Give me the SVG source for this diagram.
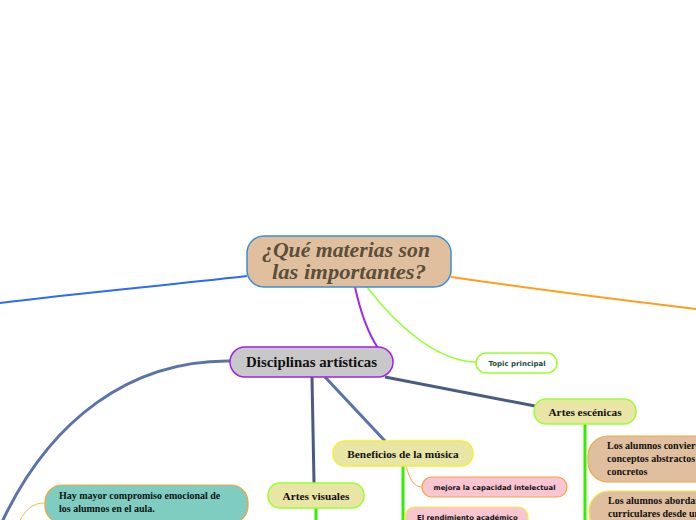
<svg xmlns="http://www.w3.org/2000/svg" width="696" height="520" viewBox="0 0 696 520">
<style>
.serif{font-family:"Liberation Serif","Times New Roman",serif;font-weight:bold;fill:#111}
.sans{font-family:"DejaVu Sans","Verdana",sans-serif;font-weight:bold}
.kh{fill:#e8e5a5}
.c{fill:none}
</style>
<rect width="696" height="520" fill="#fff"/>
<g id="connectors" class="c">
<path d="M247,276 C160,286 80,293 0,303" stroke="#2d6af5" stroke-width="2"/>
<path d="M451,277 C540,290 620,300 696,309" stroke="#ff9e1a" stroke-width="2"/>
<path d="M355,287 C360,310 366,330 378,348" stroke="#9a2cf0" stroke-width="2"/>
<path d="M367,287 C400,330 440,362 477,362" stroke="#99ff33" stroke-width="1.5"/>
<path d="M230,361 C130,360 50,420 2,522" stroke="#5a74aa" stroke-width="3"/>
<path d="M312,377 L314,483" stroke="#4a5a80" stroke-width="3"/>
<path d="M325,377 L385,441" stroke="#5a74aa" stroke-width="3"/>
<path d="M385,377 L535,406" stroke="#4a5a80" stroke-width="3"/>
<path d="M403,466 L403,520" stroke="#33ee00" stroke-width="3"/>
<path d="M406,466 C410,480 414,487 422,487" stroke="#f5a442" stroke-width="1"/>
<path d="M585,424 L585,520" stroke="#33ee00" stroke-width="3"/>
<path d="M316,508 L316,520" stroke="#33ee00" stroke-width="3"/>
<path d="M45,503 C32,503 26,510 20,520" stroke="#ffb547" stroke-width="1"/>
</g>
<g id="central">
<rect x="247" y="236" width="204" height="51" rx="17" fill="#e0bf9f" stroke="#3b8fd0" stroke-width="1.5"/>
<text x="262" y="257" textLength="168" lengthAdjust="spacingAndGlyphs" font-family="Liberation Serif,serif" font-weight="bold" font-style="italic" font-size="21" fill="#5a4f3a">¿Qué materias son</text>
<text x="272" y="279" textLength="154" lengthAdjust="spacingAndGlyphs" font-family="Liberation Serif,serif" font-weight="bold" font-style="italic" font-size="21" fill="#5a4f3a">las importantes?</text>
</g>
<g id="disciplinas">
<rect x="230" y="347" width="163" height="30" rx="15" fill="#c8c8c8" stroke="#a020f0" stroke-width="1.5"/>
<text x="246" y="367" textLength="131" lengthAdjust="spacingAndGlyphs" class="serif" font-size="14.5">Disciplinas artísticas</text>
</g>
<g id="topic">
<rect x="476" y="353" width="81" height="20" rx="10" fill="#fff" stroke="#99ff33" stroke-width="1.5"/>
<text x="517" y="366" text-anchor="middle" class="sans" font-size="7" fill="#1e4b3c">Topic principal</text>
</g>
<g id="beneficios">
<rect x="333" y="441" width="140" height="25" rx="12" class="kh" stroke="#f0f03a" stroke-width="1.5"/>
<text x="403" y="457.5" text-anchor="middle" class="serif" font-size="11.3">Beneficios de la música</text>
</g>
<g id="mejora">
<rect x="422" y="477" width="145" height="20" rx="10" fill="#f9c5d0" stroke="#f5a442" stroke-width="1.2"/>
<text x="494.5" y="490" text-anchor="middle" class="sans" font-size="6.9" fill="#111">mejora la capacidad intelectual</text>
</g>
<g id="rendimiento">
<rect x="405" y="507" width="123" height="22" rx="10" fill="#f9c5d0" stroke="#f0f03a" stroke-width="1.2"/>
<text x="417" y="519.5" class="sans" font-size="6.9" fill="#111">El rendimiento académico</text>
</g>
<g id="escenicas">
<rect x="534" y="399" width="102" height="25" rx="12" class="kh" stroke="#99ff33" stroke-width="1.5"/>
<text x="585" y="416" text-anchor="middle" class="serif" font-size="11.3">Artes escénicas</text>
</g>
<g id="convierten">
<rect x="588" y="436" width="130" height="46" rx="20" fill="#e0bf9f" stroke="#f5a442" stroke-width="1.2"/>
<text class="serif" font-size="10"><tspan x="607" y="449">Los alumnos convierten</tspan><tspan x="607" y="462">conceptos abstractos en</tspan><tspan x="607" y="475">concretos</tspan></text>
</g>
<g id="abordan">
<rect x="589" y="491" width="130" height="42" rx="20" fill="#e0bf9f" stroke="#f0f03a" stroke-width="1.2"/>
<text class="serif" font-size="10"><tspan x="608" y="504">Los alumnos abordan</tspan><tspan x="608" y="517">curriculares desde un</tspan></text>
</g>
<g id="visuales">
<rect x="268" y="483" width="96" height="25" rx="12" class="kh" stroke="#99ff33" stroke-width="1.5"/>
<text x="316" y="500" text-anchor="middle" class="serif" font-size="11.3">Artes visuales</text>
</g>
<g id="compromiso">
<rect x="45" y="485" width="203" height="38" rx="17" fill="#7ecdc0" stroke="#f5a442" stroke-width="1.2"/>
<text class="serif" font-size="10"><tspan x="59" y="499">Hay mayor compromiso emocional de</tspan><tspan x="59" y="512">los alumnos en el aula.</tspan></text>
</g>
</svg>
